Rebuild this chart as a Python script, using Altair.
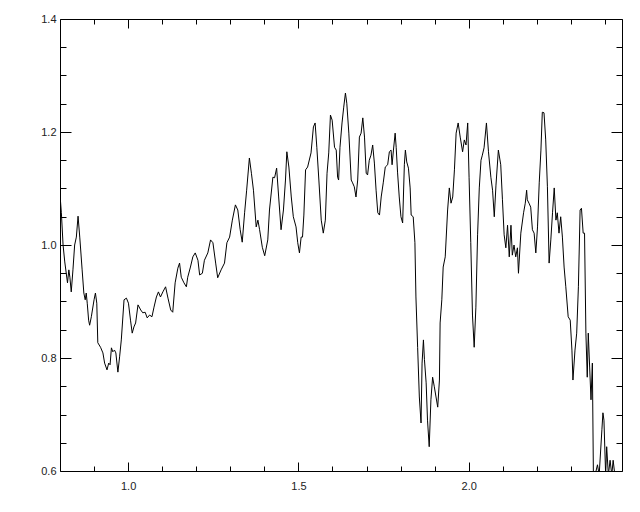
import altair as alt
import pandas as pd

wavelength = [
    0.800, 0.804, 0.809, 0.814, 0.822, 0.826, 0.829, 0.833, 0.838, 0.843,
    0.848, 0.853, 0.858, 0.865, 0.870, 0.874, 0.877, 0.880, 0.884, 0.887,
    0.892, 0.900, 0.904, 0.908, 0.911, 0.919, 0.926, 0.931, 0.938, 0.943,
    0.947, 0.951, 0.955, 0.960, 0.964, 0.970, 0.975, 0.980, 0.988, 0.995,
    1.001, 1.007, 1.012, 1.017, 1.022, 1.029, 1.037, 1.043, 1.050, 1.056,
    1.063, 1.070, 1.076, 1.083, 1.089, 1.095, 1.102, 1.110, 1.117, 1.125,
    1.131, 1.138, 1.146, 1.151, 1.156, 1.164, 1.171, 1.175, 1.183, 1.190,
    1.197, 1.205, 1.210, 1.218, 1.224, 1.234, 1.242, 1.249, 1.257, 1.263,
    1.273, 1.283, 1.290, 1.298, 1.306, 1.315, 1.322, 1.329, 1.335, 1.342,
    1.348, 1.356, 1.362, 1.368, 1.376, 1.381, 1.386, 1.394, 1.401, 1.410,
    1.415, 1.425, 1.430, 1.436, 1.442, 1.449, 1.456, 1.462, 1.466, 1.472,
    1.479, 1.485, 1.493, 1.498, 1.503, 1.508, 1.512, 1.516, 1.521, 1.527,
    1.537, 1.544, 1.549, 1.554, 1.560, 1.567, 1.573, 1.579, 1.584, 1.589,
    1.594, 1.599, 1.606, 1.611, 1.615, 1.618, 1.622, 1.628, 1.633, 1.638,
    1.642, 1.648, 1.655, 1.659, 1.664, 1.669, 1.674, 1.679, 1.684, 1.689,
    1.694, 1.699, 1.703, 1.708, 1.713, 1.718, 1.723, 1.728, 1.733, 1.738,
    1.743, 1.749, 1.755, 1.762, 1.767, 1.772, 1.775, 1.779, 1.784, 1.787,
    1.791, 1.796, 1.801, 1.806, 1.811, 1.814, 1.818, 1.823, 1.828, 1.831,
    1.837, 1.842, 1.845, 1.850, 1.855, 1.860, 1.863, 1.867, 1.870, 1.875,
    1.879, 1.884, 1.889, 1.894, 1.899, 1.904, 1.909, 1.914, 1.916, 1.921,
    1.925, 1.931, 1.938, 1.943, 1.948, 1.953, 1.958, 1.963, 1.969, 1.975,
    1.982, 1.987, 1.992, 1.997, 2.001, 2.006, 2.011, 2.016, 2.021, 2.026,
    2.031, 2.036, 2.040, 2.045, 2.052, 2.058, 2.065, 2.070, 2.075, 2.080,
    2.087, 2.094, 2.099, 2.104, 2.109, 2.114, 2.119, 2.124, 2.128, 2.133,
    2.138, 2.143, 2.146, 2.153, 2.161, 2.166, 2.170, 2.172, 2.177, 2.182,
    2.187, 2.192, 2.197, 2.202, 2.207, 2.212, 2.216, 2.221, 2.226, 2.231,
    2.236, 2.241, 2.246, 2.251, 2.256, 2.260, 2.265, 2.270, 2.275, 2.280,
    2.285, 2.292, 2.298, 2.303, 2.306, 2.312, 2.317, 2.322, 2.327, 2.331,
    2.336, 2.340, 2.344, 2.348, 2.351, 2.355, 2.359, 2.363, 2.366, 2.373,
    2.378, 2.383, 2.391, 2.394, 2.397, 2.402, 2.405, 2.410, 2.415, 2.420,
    2.424, 2.429,
]

flux = [
    1.089, 1.057, 1.000, 0.970, 0.933, 0.956, 0.943, 0.917, 0.956, 1.000,
    1.014, 1.051, 1.014, 0.956, 0.915, 0.903, 0.915, 0.897, 0.867, 0.858,
    0.873, 0.903, 0.915, 0.897, 0.827, 0.819, 0.809, 0.791, 0.779, 0.791,
    0.788, 0.818, 0.811, 0.814, 0.809, 0.775, 0.802, 0.832, 0.903, 0.906,
    0.897, 0.867, 0.844, 0.855, 0.862, 0.894, 0.885, 0.880, 0.881, 0.871,
    0.876, 0.873, 0.890, 0.908, 0.917, 0.908, 0.917, 0.926, 0.906, 0.885,
    0.881, 0.933, 0.959, 0.968, 0.943, 0.933, 0.926, 0.943, 0.961, 0.979,
    0.986, 0.973, 0.947, 0.950, 0.973, 0.986, 1.009, 1.004, 0.968, 0.942,
    0.956, 0.968, 1.004, 1.014, 1.044, 1.071, 1.062, 1.027, 1.005, 1.057,
    1.097, 1.154, 1.127, 1.097, 1.032, 1.044, 1.027, 0.996, 0.981, 1.009,
    1.062, 1.120, 1.119, 1.136, 1.085, 1.027, 1.062, 1.115, 1.165, 1.138,
    1.085, 1.050, 1.032, 1.004, 0.986, 1.014, 1.014, 1.053, 1.133, 1.138,
    1.163, 1.209, 1.216, 1.173, 1.115, 1.044, 1.021, 1.044, 1.127, 1.163,
    1.230, 1.221, 1.173, 1.168, 1.120, 1.115, 1.173, 1.216, 1.244, 1.269,
    1.251, 1.198, 1.115, 1.110, 1.103, 1.085, 1.115, 1.191, 1.198, 1.225,
    1.191, 1.127, 1.124, 1.150, 1.159, 1.177, 1.145, 1.097, 1.057, 1.053,
    1.085, 1.110, 1.138, 1.142, 1.165, 1.168, 1.142, 1.168, 1.198, 1.173,
    1.129, 1.085, 1.050, 1.039, 1.142, 1.168, 1.147, 1.136, 1.101, 1.053,
    1.050, 1.004, 0.908, 0.819, 0.731, 0.685, 0.791, 0.832, 0.797, 0.756,
    0.690, 0.643, 0.726, 0.766, 0.749, 0.731, 0.713, 0.761, 0.862, 0.903,
    0.961, 0.979, 1.062, 1.101, 1.074, 1.085, 1.133, 1.198, 1.216, 1.191,
    1.165, 1.186, 1.177, 1.216, 1.120, 1.004, 0.876, 0.819, 0.890, 1.018,
    1.101, 1.150, 1.159, 1.172, 1.216, 1.165, 1.120, 1.097, 1.050, 1.106,
    1.168, 1.142, 1.080, 1.018, 0.995, 1.035, 0.979, 1.035, 0.982, 1.000,
    0.979, 0.995, 0.950, 1.021, 1.057, 1.074, 1.097, 1.080, 1.074, 1.067,
    1.027, 1.021, 0.986, 1.032, 1.110, 1.168, 1.235, 1.234, 1.186, 1.103,
    0.968, 1.009, 1.057, 1.101, 1.044, 1.057, 1.021, 1.050, 1.014, 0.961,
    0.926, 0.873, 0.867, 0.814, 0.761, 0.814, 0.844, 0.926, 1.062, 1.065,
    1.021, 1.021, 0.844, 0.766, 0.844, 0.784, 0.726, 0.791, 0.593, 0.598,
    0.611, 0.593, 0.673, 0.703, 0.690, 0.593, 0.643, 0.593, 0.619, 0.593,
    0.619, 0.593,
]

x_major = [1.0, 1.5, 2.0]
x_minor = [0.9, 1.1, 1.2, 1.3, 1.4, 1.6, 1.7, 1.8, 1.9, 2.1, 2.2, 2.3, 2.4]
y_major = [0.6, 0.8, 1.0, 1.2, 1.4]
y_minor = [0.65, 0.7, 0.75, 0.85, 0.9, 0.95, 1.05, 1.1, 1.15, 1.25, 1.3, 1.35]

W, H = 562, 452

df = pd.DataFrame({"w": wavelength, "f": flux})

xs = alt.Scale(domain=[0.8, 2.45], nice=False, zero=False)
ys = alt.Scale(domain=[0.6, 1.4], nice=False, zero=False)

FONT = "Liberation Sans"


def tick_axis(orient, offset, values, size, domain=False):
    return alt.Axis(orient=orient, offset=offset, values=values, tickSize=size,
                    labels=False, domain=domain, domainColor="black", domainWidth=1,
                    grid=False, title=None, tickColor="black", tickWidth=1)


base = alt.Chart(df)

line = base.mark_line(color="black", strokeWidth=1, clip=True).encode(
    x=alt.X("w:Q", scale=xs, axis=alt.Axis(
        orient="bottom", values=x_major, tickSize=0, labelPadding=9,
        domain=True, domainColor="black", domainWidth=1,
        grid=False, title=None, format=".1f",
        labelFont=FONT, labelFontSize=11, labelColor="#222", labelFlush=False)),
    y=alt.Y("f:Q", scale=ys, axis=alt.Axis(
        orient="left", values=y_major, tickSize=0, labelPadding=4,
        domain=True, domainColor="black", domainWidth=1,
        grid=False, title=None, format=".1f",
        labelFont=FONT, labelFontSize=11, labelColor="#222")),
)


def ghost(xaxis, yaxis):
    return base.mark_line(opacity=0, clip=True).encode(
        x=alt.X("w:Q", scale=xs, axis=xaxis),
        y=alt.Y("f:Q", scale=ys, axis=yaxis),
    )


layers = [
    line,
    # inward ticks along bottom and left edges
    ghost(tick_axis("top", -H, x_major, 9), tick_axis("right", -W, y_major, 11)),
    ghost(tick_axis("top", -H, x_minor, 5), tick_axis("right", -W, y_minor, 6)),
    # inward ticks along top and right edges (with the frame lines there)
    ghost(tick_axis("bottom", -H, x_major, 9, True), tick_axis("left", -W, y_major, 11, True)),
    ghost(tick_axis("bottom", -H, x_minor, 5), tick_axis("left", -W, y_minor, 6)),
]

chart = alt.layer(*layers).resolve_axis(x="independent", y="independent").properties(
    width=W, height=H,
    autosize=alt.AutoSizeParams(type="none"),
    padding={"left": 52, "top": 11, "right": 8, "bottom": 30},
).configure_view(strokeWidth=0).configure(background="white")

chart.save("out.html", embed_options={"renderer": "svg", "actions": False})
